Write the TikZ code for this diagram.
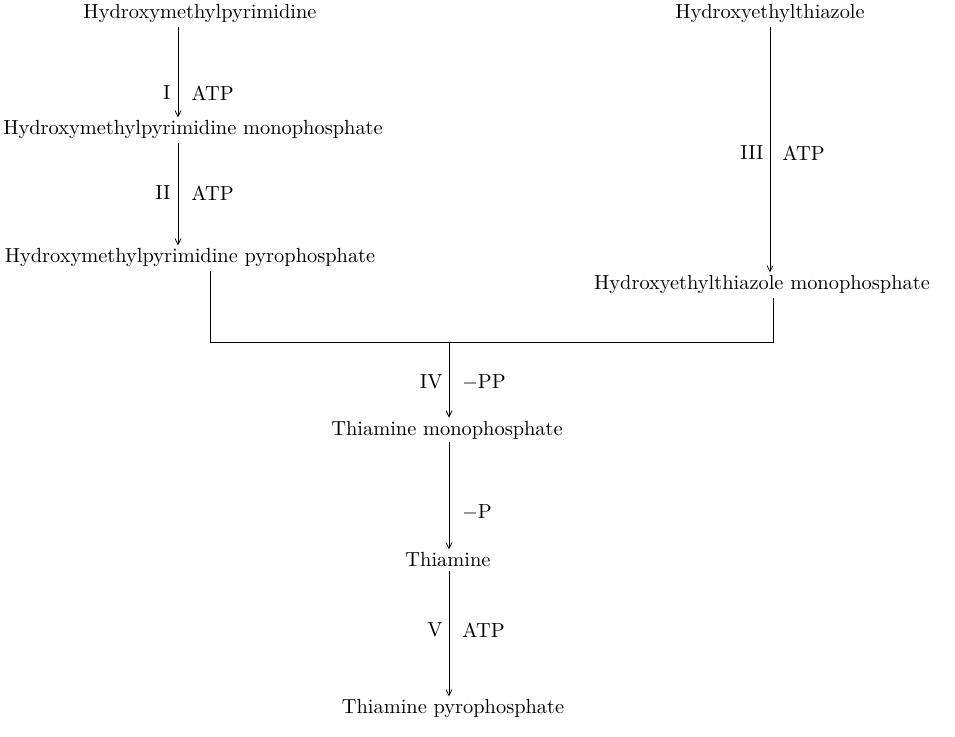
\documentclass[tikz,border=0pt]{standalone}
\usetikzlibrary{arrows.meta}
\begin{document}
\begin{tikzpicture}[x=0.5pt,y=-0.5pt,
  chem/.style={inner sep=1.5pt, font=\fontsize{10.2}{12}\selectfont},
  lab/.style={inner sep=0pt, font=\fontsize{10.2}{12}\selectfont},
  arr/.style={-{Straight Barb[length=3pt,width=3pt]}, line width=0.4pt},
  ln/.style={line width=0.4pt}]
\useasboundingbox (0,0) rectangle (955,737);
% compounds
\node[chem] (a) at (200,14) {Hydroxymethylpyrimidine};
\node[chem] (b) at (193,130) {Hydroxymethylpyrimidine monophosphate};
\node[chem] (c) at (190,258) {Hydroxymethylpyrimidine pyrophosphate};
\node[chem] (d) at (770,14) {Hydroxyethylthiazole};
\node[chem] (e) at (762,285) {Hydroxyethylthiazole monophosphate};
\node[chem] (f) at (447,430) {Thiamine monophosphate};
\node[chem] (g) at (448,560) {Thiamine};
\node[chem] (h) at (453,709) {Thiamine pyrophosphate};
% line positions
\coordinate (xL) at (178,0);
\coordinate (xC) at (210,0);
\coordinate (xR) at (770,0);
\coordinate (xE) at (773,0);
\coordinate (xM) at (449,0);
\coordinate (j1) at (210,342);
\coordinate (j2) at (773,342);
\coordinate (jm) at (449,342);
% arrows
\draw[arr] (a.south -| xL) -- (b.north -| xL);
\draw[arr] (b.south -| xL) -- (c.north -| xL);
\draw[arr] (d.south -| xR) -- (e.north -| xR);
\draw[ln] (c.south -| xC) -- (j1) -- (j2) -- (e.south -| xE);
\draw[arr] (jm) -- (f.north -| xM);
\draw[arr] (f.south -| xM) -- (g.north -| xM);
\draw[arr] (g.south -| xM) -- (h.north -| xM);
% labels
\node[lab, anchor=east] (l1) at (171,93) {I};
\node[lab, anchor=west] (r1) at (191,93) {ATP};
\node[lab, anchor=east] (l2) at (171,193) {II};
\node[lab, anchor=west] (r2) at (191,193) {ATP};
\node[lab, anchor=east] (l3) at (764,153) {III};
\node[lab, anchor=west] (r3) at (782,153) {ATP};
\node[lab, anchor=east] (l4) at (443,382) {IV};
\node[lab, anchor=west] (r4) at (462,382) {$-$PP};
\node[lab, anchor=west] (r5) at (462,512) {$-$P};
\node[lab, anchor=east] (l6) at (443,630) {V};
\node[lab, anchor=west] (r6) at (462,630) {ATP};
\end{tikzpicture}
\end{document}
